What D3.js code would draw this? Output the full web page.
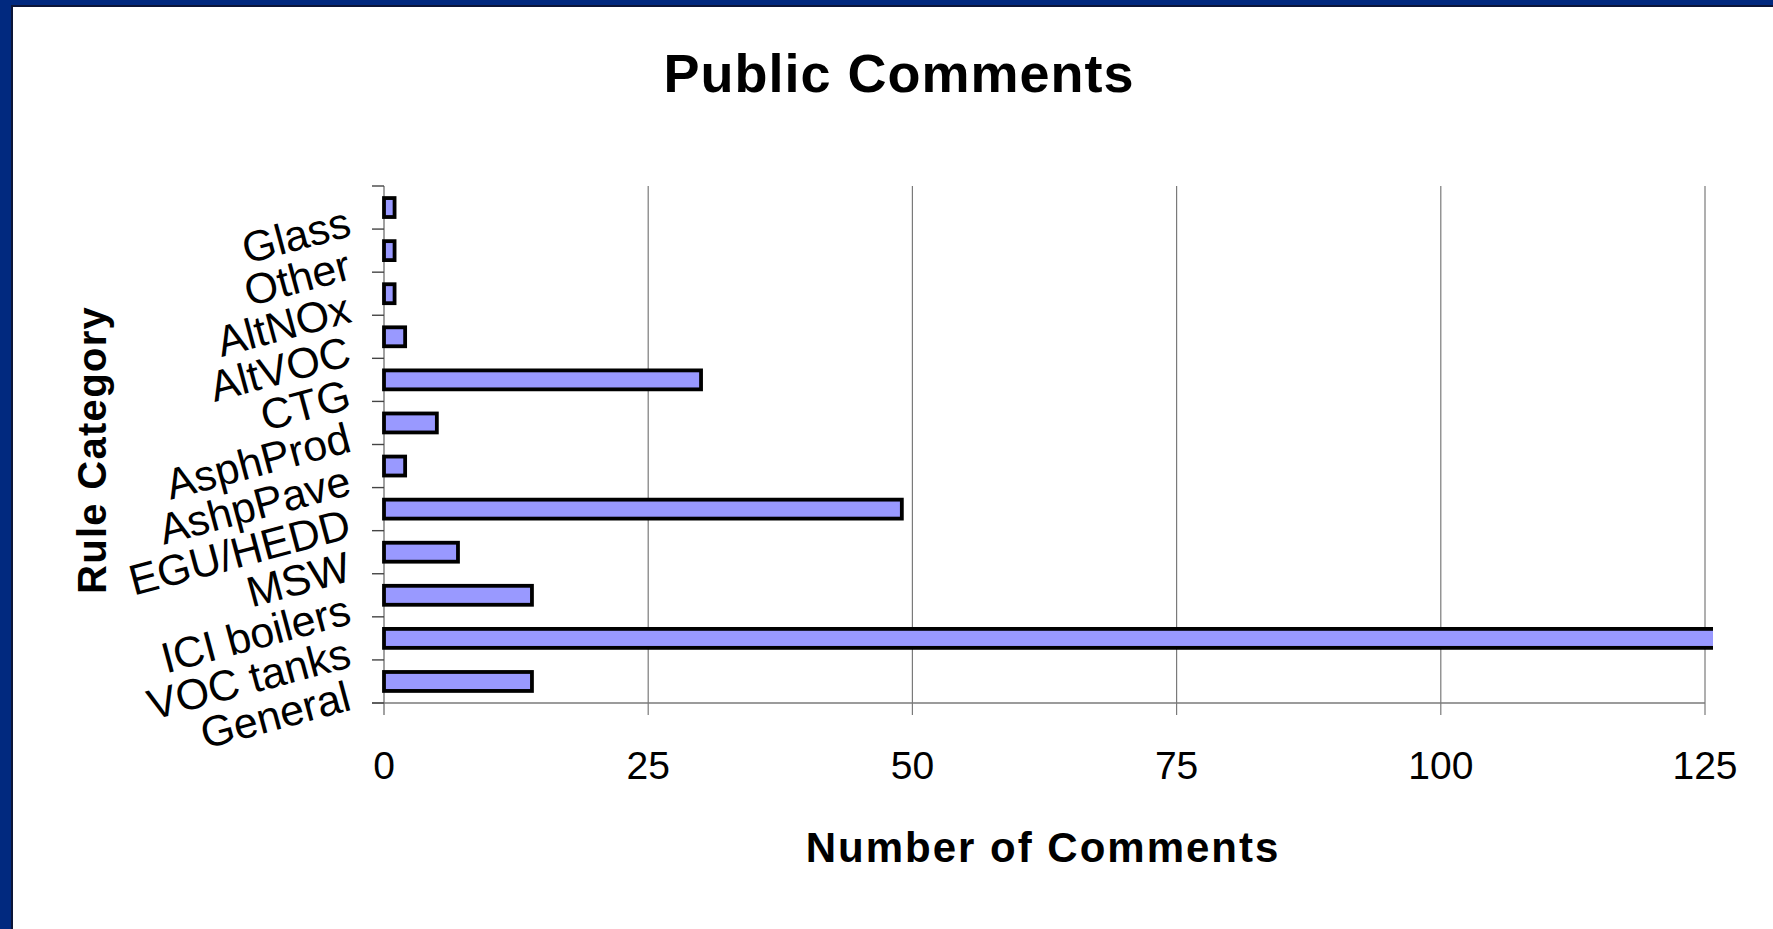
<!DOCTYPE html>
<html>
<head>
<meta charset="utf-8">
<script src="https://cdn.jsdelivr.net/npm/d3@7"></script>
<style>
    html, body { margin: 0; padding: 0; background: #ffffff; }
    svg { display: block; font-family: "Liberation Sans", Arial, sans-serif; }
</style>
</head>
<body>
<svg width="1773" height="929"></svg>
<script>
// ---- Dados
const categorias = ["Glass", "Other", "AltNOx", "AltVOC", "CTG", "AsphProd", "AshpPave",
    "EGU/HEDD", "MSW", "ICI boilers", "VOC tanks", "General"];
const comentarios = [1, 1, 1, 2, 30, 5, 2, 49, 7, 14, 130, 14];
const ticksX = [0, 25, 50, 75, 100, 125];

const titulo = "Public Comments";
const tituloX = "Number of Comments";
const tituloY = "Rule Category";

const svg = d3.select('svg');
const margens = { left: 384, right: 68, top: 186, bottom: 226 };
const innerWidth = 1773 - margens.left - margens.right;
const innerHeight = 929 - margens.top - margens.bottom;

// ---- Moldura azul (slide)
svg.append('rect').attr('x', 0).attr('y', 0).attr('width', 1773).attr('height', 6).attr('fill', '#01297f');
svg.append('rect').attr('x', 0).attr('y', 0).attr('width', 11).attr('height', 929).attr('fill', '#01297f');
svg.append('rect').attr('x', 11).attr('y', 5).attr('width', 1762).attr('height', 2).attr('fill', '#0c1538');
svg.append('rect').attr('x', 11).attr('y', 5).attr('width', 2).attr('height', 924).attr('fill', '#0c1538');

const g = svg.append('g')
    .attr('transform', `translate(${margens.left}, ${margens.top})`);

// ---- Escalas
const pad = 0.56;
const mapX = d3.scaleLinear().domain([0, 125]).range([0, innerWidth]);
const mapY = d3.scaleBand().domain(categorias).range([0, innerHeight])
    .paddingInner(pad).paddingOuter(pad / 2); // barra centrada na faixa
const step = mapY.step();

// ---- Grade vertical
g.selectAll('.grid').data(ticksX.slice(1)).join('line')
    .attr('class', 'grid')
    .attr('x1', d => mapX(d)).attr('x2', d => mapX(d))
    .attr('y1', 0).attr('y2', innerHeight + 12)
    .attr('stroke', '#7a7a7a').attr('stroke-width', 1.2);

// ---- Eixo X (linha, marcas e rótulos)
g.append('line')
    .attr('x1', -12).attr('x2', innerWidth)
    .attr('y1', innerHeight).attr('y2', innerHeight)
    .attr('stroke', '#7a7a7a').attr('stroke-width', 1.4);

g.selectAll('.tickx').data(ticksX).join('text')
    .attr('class', 'tickx')
    .attr('x', d => mapX(d))
    .attr('y', innerHeight + 76)
    .attr('text-anchor', 'middle')
    .attr('font-size', 39)
    .attr('fill', '#000')
    .text(d => d);

// ---- Eixo Y (linha e marcas nos limites das categorias)
g.append('line')
    .attr('x1', 0).attr('x2', 0)
    .attr('y1', 0).attr('y2', innerHeight + 12)
    .attr('stroke', '#7a7a7a').attr('stroke-width', 1.4);

g.selectAll('.ticky').data(d3.range(categorias.length + 1)).join('line')
    .attr('class', 'ticky')
    .attr('x1', -12).attr('x2', 0)
    .attr('y1', i => i * step).attr('y2', i => i * step)
    .attr('stroke', '#444').attr('stroke-width', 1.4);

// Rótulos inclinados (-15 graus)
g.selectAll('.cat').data(categorias).join('text')
    .attr('class', 'cat')
    .attr('transform', d => `translate(-31, ${mapY(d) + mapY.bandwidth() / 2 + 28}) rotate(-15)`)
    .attr('text-anchor', 'end')
    .attr('font-size', 43)
    .attr('fill', '#000')
    .text(d => d);

// ---- Barras (recortadas um pouco além do limite do eixo)
svg.append('clipPath').attr('id', 'clipBarras')
    .append('rect')
    .attr('x', -5).attr('y', -5)
    .attr('width', mapX(125) + 8 + 5).attr('height', innerHeight + 10);

g.append('g').attr('clip-path', 'url(#clipBarras)')
    .selectAll('rect')
    .data(categorias.map((c, i) => ({ cat: c, valor: comentarios[i] })))
    .join('rect')
    .attr('x', mapX(0))
    .attr('y', d => mapY(d.cat))
    .attr('width', d => mapX(d.valor) - mapX(0))
    .attr('height', mapY.bandwidth())
    .attr('fill', '#9999ff')
    .attr('stroke', '#000')
    .attr('stroke-width', 3.8);

// ---- Títulos
svg.append('text')
    .attr('x', 899).attr('y', 92)
    .attr('text-anchor', 'middle')
    .attr('font-size', 54).attr('font-weight', 'bold')
    .attr('letter-spacing', 1)
    .text(titulo);

svg.append('text')
    .attr('x', 1043).attr('y', 862)
    .attr('text-anchor', 'middle')
    .attr('font-size', 42).attr('font-weight', 'bold')
    .attr('letter-spacing', 2)
    .text(tituloX);

svg.append('text')
    .attr('transform', 'translate(106, 450) rotate(-90)')
    .attr('text-anchor', 'middle')
    .attr('font-size', 40).attr('font-weight', 'bold')
    .attr('letter-spacing', 1.3)
    .text(tituloY);
</script>
</body>
</html>
